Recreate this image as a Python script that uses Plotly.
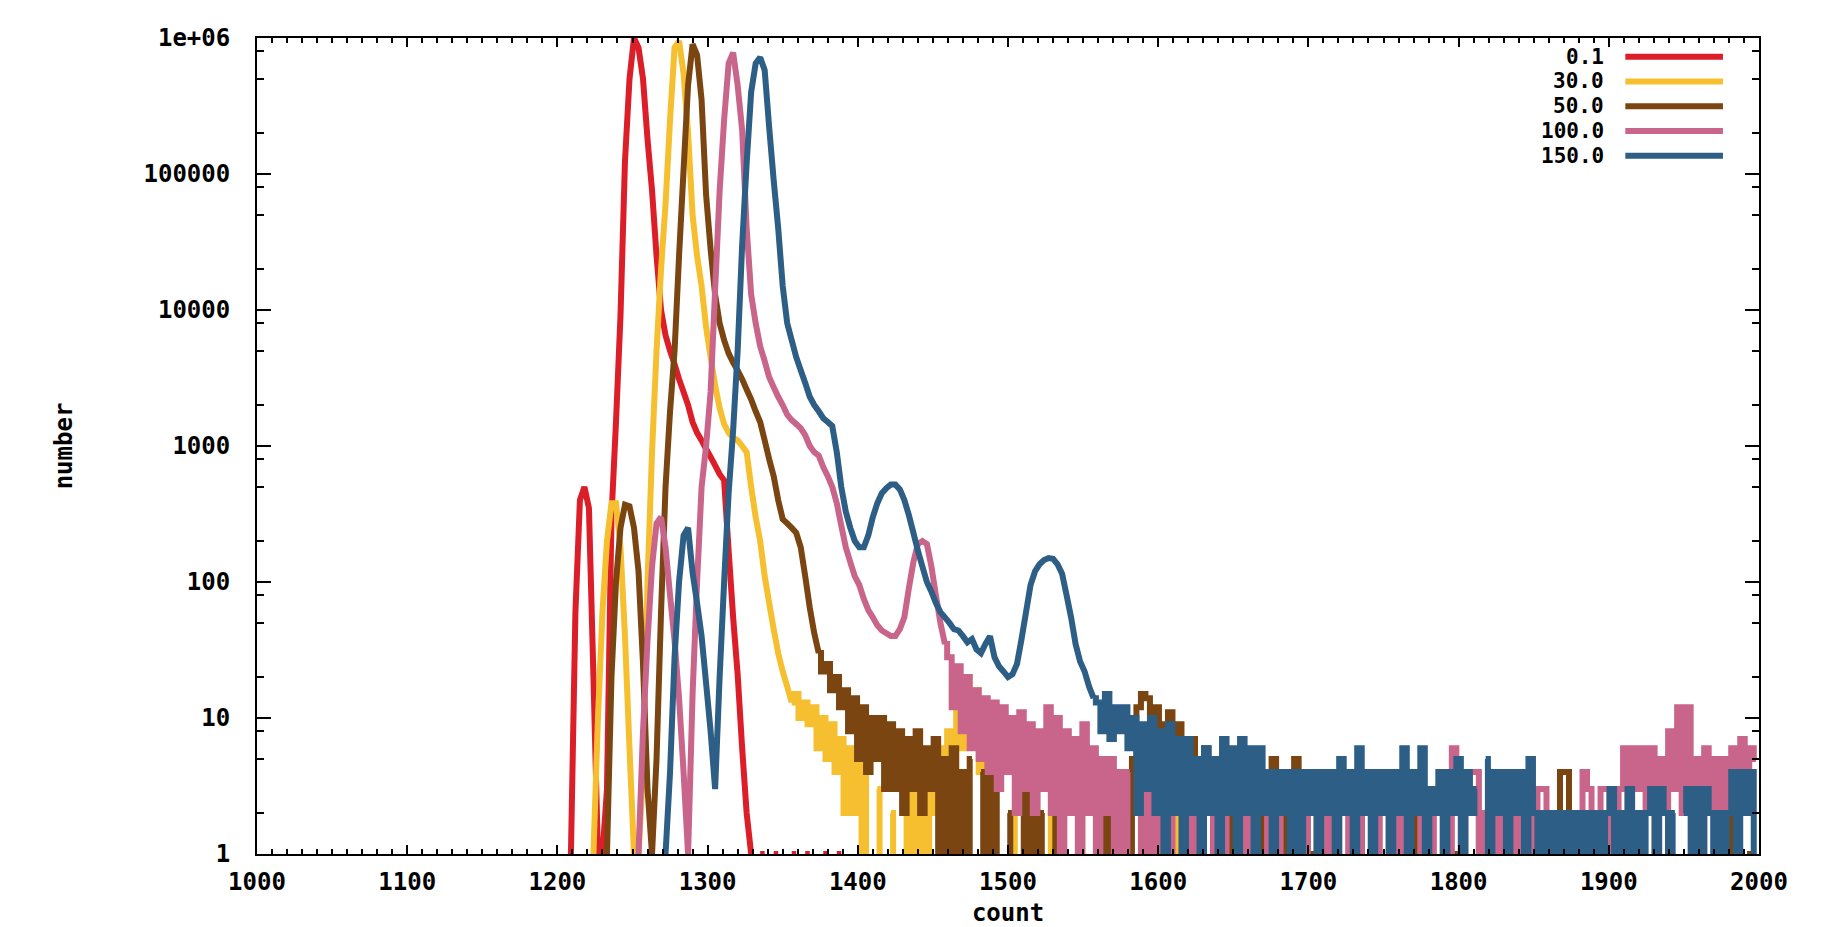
import plotly.graph_objects as go

# ---------------- data (histogram, bin width 3 counts) ----------------
BIN = 3
names = ["0.1", "30.0", "50.0", "100.0", "150.0"]
colors = ["#dc1e28", "#f5bf30", "#7b4512", "#c9648b", "#2d5e86"]
starts = [1206, 1221, 1230, 1251, 1269]
# count from which the noisy tail is drawn as histogram steps
tail_from = [None, 1356, 1374, 1458, 1557]

red = [0, 1, 60, 400, 500, 350, 20, 1, 1, 3, 300, 1500, 9000, 125000, 500000,
       1000000, 850000, 500000, 180000, 76000, 25000, 10000, 6500, 5000, 4000,
       3100, 2500, 2000, 1500, 1250, 1100, 950, 830, 720, 620, 560, 170, 55, 21,
       6, 2, 1, 0, 1, 1, 0, 1, 1, 0, 0, 1, 1, 0, 1, 1, 0, 0, 1, 1, 0, 1, 1, 0]

yellow = [0, 1, 10, 60, 200, 380, 380, 180, 40, 6, 1, 1, 4, 100, 900, 5000,
          20000, 60000, 250000, 850000, 950000, 550000, 200000, 50000, 25000,
          15000, 7500, 4500, 2800, 1900, 1450, 1250, 1150, 1100, 1000, 900, 500,
          300, 200, 110, 70, 45, 30, 22, 17, 13, 15, 10, 13, 9, 12, 6, 10, 5, 9,
          4, 7, 2, 6, 2, 5, 1, 4, 0, 3, 1, 0, 2, 1, 0, 3, 1, 3, 1, 3, 1, 4, 2, 6,
          3, 8, 4, 14, 6, 20, 8, 16, 4, 7, 1, 3, 0,
          1, 0, 2, 1, 0, 1, 2, 0, 1, 0, 1, 2, 0, 1, 0, 1, 0, 2, 1, 0, 1, 0, 1, 0,
          1, 0, 0, 1, 0, 1, 0, 0, 1, 0, 1, 0, 0, 1, 2, 1, 0, 0, 1, 0, 1, 0, 1, 0,
          0, 1]

brown = [0, 1, 20, 100, 250, 370, 360, 250, 120, 25, 3, 1, 5, 60, 500, 1800,
         5000, 25000, 107000, 450000, 900000, 750000, 350000, 70000, 28000,
         13000, 8000, 6000, 4800, 4100, 3600, 3100, 2600, 2200, 1800, 1500, 1100,
         800, 600, 400, 290, 270, 250, 230, 180, 110, 65, 42, 30, 22, 25, 16, 20,
         12, 16, 8, 14, 5, 12, 4, 10, 5, 10, 3, 9, 3, 8, 2, 7, 3, 8, 2, 6, 3, 7,
         1, 5, 1, 6, 1, 4, 1, 5, 0, 4, 1, 5, 1, 3, 0, 2, 1, 0, 1, 3, 1, 3, 1, 2,
         0, 3, 1, 2, 0, 1, 0, 2, 0, 1, 0, 2, 1, 2, 1, 2, 1, 2, 1, 5, 12, 15, 14,
         11, 12, 4, 9, 11, 3, 9, 7, 2, 7, 5, 1, 6, 4, 1, 5, 4, 1, 4, 3, 1, 3, 2,
         1, 4, 1, 3, 5, 4, 1, 4, 2, 5, 1, 2, 1,
         1, 2, 1, 0, 1, 2, 1, 0, 0, 1, 1, 2, 0, 1, 1, 0, 2, 1, 0, 1,
         1, 0, 2, 1, 0, 1, 1, 0, 1, 2, 0, 1, 1, 0, 1, 0, 1, 2, 1, 0,
         1, 1, 0, 1, 2, 0, 1, 1, 0, 1, 0, 1, 2, 1, 2, 4, 4, 2, 1, 0,
         1, 1, 0, 1, 2, 0, 1, 1, 0, 1, 0, 1, 2, 1, 0, 1, 1, 0, 1, 2,
         0, 1, 0, 1, 1, 0, 2, 1, 0, 1, 1, 0, 1, 2, 1, 0, 1, 1, 0]

pink = [0, 1, 8, 37, 130, 270, 300, 180, 80, 37, 14, 4, 1, 15, 100, 500, 1000,
        2500, 14000, 75000, 250000, 650000, 780000, 450000, 210000, 40000, 13000,
        8000, 5400, 4200, 3200, 2700, 2300, 2000, 1700, 1550, 1450, 1350, 1200,
        1000, 900, 850, 700, 600, 500, 380, 260, 180, 140, 110, 95, 75, 62, 55,
        48, 44, 42, 40, 40, 45, 55, 90, 140, 190, 200, 190, 130, 80, 50, 35,
        28, 12, 24, 8, 20, 6, 16, 5, 14, 4, 13, 3, 12, 4, 10, 2, 11, 3, 9, 2,
        8, 3, 12, 2, 10, 1, 8, 2, 7, 1, 9, 2, 6, 1, 5, 2, 5, 1, 4, 1, 4, 0, 3,
        1, 3, 1,
        2, 1, 3, 1, 2, 0, 3, 1, 2, 1, 3, 0, 2, 1, 3, 1, 2, 0, 2, 1,
        3, 1, 2, 0, 2, 1, 3, 1, 2, 0, 2, 1, 3, 1, 2, 0, 2, 1, 3, 1,
        2, 0, 2, 1, 3, 1, 2, 4, 4, 1, 2, 0, 2, 1, 3, 1, 2, 0, 2, 1,
        3, 1, 2, 0, 2, 1, 6, 4, 1, 2, 4, 4, 1, 2, 0, 2, 1, 2, 1, 3,
        1, 2, 0, 2, 1, 3, 3, 1, 2, 0, 2, 1, 2, 1, 2, 4, 3, 1, 2, 3,
        3, 1, 2, 3,
        6, 1, 6, 3, 6, 2, 6, 1, 5, 2, 8, 3, 12, 2, 12, 3, 5, 1, 6, 2,
        5, 1, 5, 2, 6, 2, 7, 3, 6, 5]

blue = [0, 1, 4, 28, 100, 220, 250, 117, 70, 40, 18, 8, 3, 20, 100, 450, 1300,
        5000, 30000, 120000, 400000, 650000, 720000, 580000, 220000, 90000,
        40000, 15000, 8000, 6000, 4500, 3600, 2900, 2300, 2000, 1800, 1600, 1500,
        1400, 900, 500, 330, 250, 200, 180, 180, 220, 300, 380, 450,
        490, 520, 520, 480, 400, 310, 230, 170, 130, 100, 85, 70, 60, 55, 50, 45,
        44, 40, 36, 38, 32, 30, 35, 40, 28, 24, 22, 20, 21, 25, 38, 60, 95, 120,
        135, 145, 150, 148, 135, 115, 80, 55, 35, 26, 22, 17, 14,
        13, 8, 15, 7, 12, 8, 12, 6, 10, 2, 9, 3, 10, 2, 8, 1, 9, 2, 7, 1,
        7, 2, 5, 1, 6, 2, 5, 1, 7, 2, 6, 1, 7, 2, 6, 1, 6, 2, 4, 1,
        4, 2, 4, 1, 4, 1, 4, 2, 4, 1, 4, 2, 4, 1, 5, 2, 4, 1, 6, 2,
        4, 1, 4, 2, 4, 1, 4, 2, 6, 1, 4, 2, 6, 1, 3, 2, 4, 1, 4, 2,
        5, 1, 4, 2, 3, 0, 5, 1, 4, 2, 4, 1, 4, 2, 4, 1, 5, 2, 1, 2,
        1, 2, 1, 2, 1, 2, 1, 2, 1, 2, 1, 2, 1, 2, 3, 1, 2, 1, 3, 1,
        2, 1, 2, 3, 1, 3, 2, 1, 2, 0, 2, 3, 1, 3, 1, 3, 2, 1, 2, 1,
        2, 4, 1, 4, 2, 4, 1]

series = [red, yellow, brown, pink, blue]

x_tick_vals = [1000, 1100, 1200, 1300, 1400, 1500, 1600, 1700, 1800, 1900, 2000]
y_tick_vals = [1, 10, 100, 1000, 10000, 100000, 1000000]
y_tick_text = ["1", "10", "100", "1000", "10000", "100000", "1e+06"]
y_minor_vals = [m * 10 ** d for d in range(6) for m in (2, 5, 8)]

FONT = "DejaVu Sans Mono"
tick_font = dict(family=FONT, size=24, color="black", weight="bold")
key_font = dict(family=FONT, size=21, color="black", weight="bold")
LW = 6

fig = go.Figure()
for name, color, start, vals, split in zip(names, colors, starts, series, tail_from):
    xs = [start + BIN * i for i in range(len(vals))]
    ys = [v if v > 0 else None for v in vals]
    k = len(xs) if split is None else xs.index(split) + 1
    # main peak region: straight segments
    fig.add_trace(go.Scatter(
        x=xs[:k], y=ys[:k], mode="lines", name=name, showlegend=False,
        line=dict(color=color, width=LW, shape="linear", simplify=False),
        connectgaps=False))
    # noisy tail: histogram steps
    if k < len(xs):
        fig.add_trace(go.Scatter(
            x=xs[k - 1:], y=ys[k - 1:], mode="lines", name=name, showlegend=False,
            line=dict(color=color, width=LW, shape="hvh", simplify=False),
            connectgaps=False))

fig.update_xaxes(
    range=[1000, 2000], tickvals=x_tick_vals, automargin=False,
    ticks="inside", ticklen=9, tickwidth=2, tickcolor="black",
    mirror="allticks", showline=True, linecolor="black", linewidth=2,
    showgrid=False, zeroline=False, tickfont=tick_font, ticklabelstandoff=5,
    minor=dict(ticks="inside", ticklen=5, tickwidth=2, tickcolor="black",
               dtick=10, tick0=1000, showgrid=False),
    title=dict(text="count", font=tick_font, standoff=13),
)
fig.update_yaxes(
    type="log", range=[0, 6], tickvals=y_tick_vals, ticktext=y_tick_text,
    automargin=False,
    ticks="inside", ticklen=14, tickwidth=2, tickcolor="black",
    mirror="allticks", showline=True, linecolor="black", linewidth=2,
    showgrid=False, zeroline=False, tickfont=tick_font, ticklabelstandoff=20,
    minor=dict(ticks="inside", ticklen=7, tickwidth=2, tickcolor="black",
               tickvals=y_minor_vals, showgrid=False),
    title=dict(text="number", font=tick_font, standoff=64),
)

# gnuplot-style key: text on the left, line sample on the right
shapes = []
annotations = []
for i, (name, color) in enumerate(zip(names, colors)):
    yk = 0.977 - i * 0.0303
    annotations.append(dict(
        x=0.8975, y=yk, xref="paper", yref="paper", text=name, showarrow=False,
        xanchor="right", yanchor="middle", font=key_font, borderpad=0))
    shapes.append(dict(
        type="line", xref="paper", yref="paper", x0=0.911, x1=0.976, y0=yk,
        y1=yk, line=dict(color=color, width=LW)))

fig.update_layout(
    width=1821, height=927,
    margin=dict(l=257, r=62, t=38, b=73),
    paper_bgcolor="white", plot_bgcolor="white",
    showlegend=False, shapes=shapes, annotations=annotations,
)

fig.write_html("out.html", config={"displayModeBar": False})
